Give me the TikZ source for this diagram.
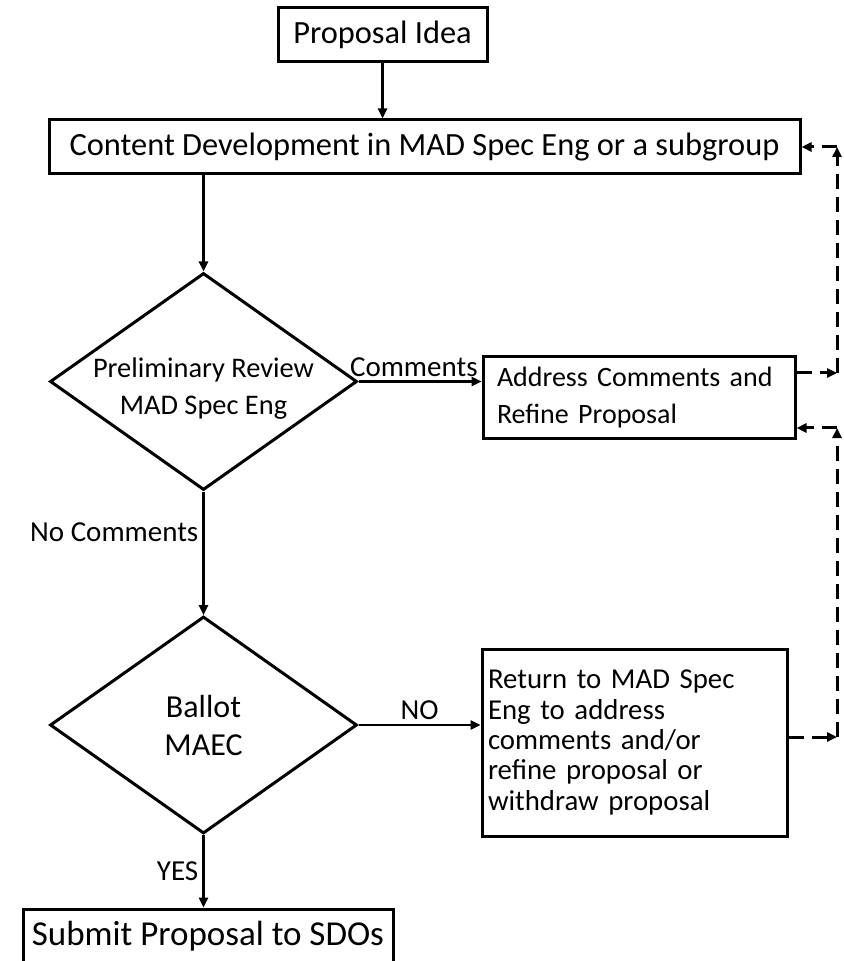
\documentclass[tikz,border=0pt]{standalone}
\usepackage{fontspec}
\setmainfont{Carlito}
\usetikzlibrary{arrows.meta,shapes.geometric}

\tikzset{
	flowbox/.style={draw, line width=1.5pt, minimum height=27pt, inner sep=0pt, font=\fontsize{16.2}{19}\selectfont},
	decision/.style={draw, diamond, aspect=1.414, line width=1.5pt, minimum width=153.5pt, minimum height=108.5pt, inner sep=0pt, align=center},
	flowarrow/.style={line width=1.2pt, -{Triangle[length=5pt,width=4.5pt]}},
	backarrow/.style={flowarrow, line width=1.5pt, dash pattern=on 7.5pt off 4pt},
	lbl/.style={font=\fontsize{14.5}{17}\selectfont, inner sep=2pt},
}

\begin{document}
\begin{tikzpicture}[x=0.5pt, y=-0.5pt]
	%%%%% START %%%%%
	\useasboundingbox (0,0) rectangle (843,961);
	
	\node[flowbox, minimum width=104.5pt] (idea) at (382.5,35) {Proposal Idea};
	\node[flowbox, minimum width=375.5pt] (content) at (424.5,147) {Content Development in MAD Spec Eng or a subgroup};
	
	\node[decision, font=\fontsize{14.2}{18.5}\selectfont] (review) at (203.5,381.5) {\raisebox{-7pt}[14pt][14pt]{\begin{tabular}{@{}c@{}}Preliminary Review\\MAD Spec Eng\end{tabular}}};
	\node[flowbox, minimum width=156pt, minimum height=40.5pt, text width=142pt, inner xsep=7pt, align=left, font=\fontsize{14}{18.5}\selectfont] (address) at (639,397.5) {Address Comments and\\Refine Proposal};
	
	\node[decision, font=\fontsize{16}{19}\selectfont] (ballot) at (203.5,725) {Ballot\\MAEC};
	\node[flowbox, minimum width=152.5pt, minimum height=93.5pt, text width=146.5pt, inner xsep=3pt, align=left, font=\fontsize{14.4}{15.2}\selectfont] (return) at (634.5,742.5) {Return to MAD Spec\\Eng to address\\comments and/or\\refine proposal or\\withdraw proposal};
	
	\node[flowbox, minimum width=185pt, font=\fontsize{17.5}{20}\selectfont] (submit) at (208,936) {Submit Proposal to SDOs};
	
	% main flow
	\draw[flowarrow] (idea.south) -- (idea.south |- content.north);
	\draw[flowarrow] (review.north |- content.south) -- (review.north);
	\draw[flowarrow] (review.east) -- (address.west |- review.east) node[lbl, pos=0.45, above] {Comments};
	\draw[flowarrow] (review.south) -- (ballot.north) node[lbl, pos=0.33, left] {No Comments};
	\draw[flowarrow] (ballot.east) -- (return.west |- ballot.east) node[lbl, midway, above] {NO};
	\draw[flowarrow] (ballot.south) -- (ballot.south |- submit.north) node[lbl, midway, left] {YES};
	
	% loops back
	\coordinate (c1) at (837,373);
	\coordinate (c2) at (837,147);
	\coordinate (c3) at (837,737);
	\coordinate (c4) at (837,428);
	\draw[backarrow] (address.east |- c1) -- (c1);
	\draw[backarrow] (c1) -- (c2);
	\draw[backarrow] (c2) -- (content.east |- c2);
	\draw[backarrow] (return.east |- c3) -- (c3);
	\draw[backarrow] (c3) -- (c4);
	\draw[backarrow] (c4) -- (address.east |- c4);
	%%%%% END %%%%%
\end{tikzpicture}
\end{document}
